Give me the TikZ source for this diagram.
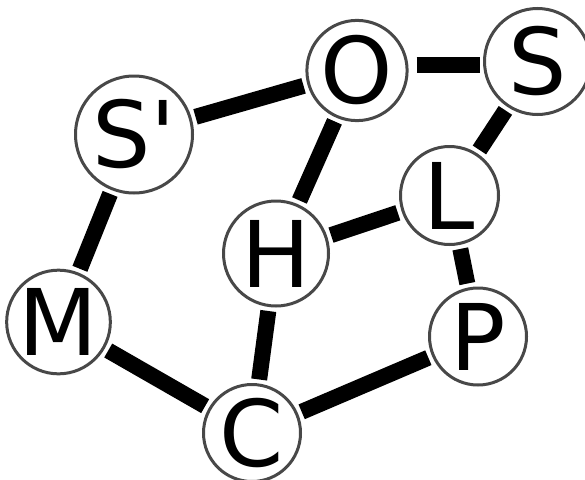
\documentclass[tikz,border=0pt]{standalone}
\usepackage{fontspec}
\setmainfont{DejaVu Sans}[Ligatures=TeXOff]
\definecolor{ring}{RGB}{72,72,72}
\begin{document}
\begin{tikzpicture}[x=1pt,y=-1pt,
  vtx/.style={circle,draw=ring,line width=3pt,fill=white,inner sep=0pt,
    font=\fontsize{92}{92}\selectfont},
  conn/.style={line width=16pt,line cap=butt,shorten <=4pt,shorten >=4pt}]
\useasboundingbox (0,0) rectangle (585,479);
\node[vtx,minimum size=117pt] (Sp) at (134,134.5) {S'};
\node[vtx,minimum size=97pt] (O) at (357,70.5) {O};
\node[vtx,minimum size=106pt] (S) at (537.5,61.5) {S};
\node[vtx,minimum size=98pt] (L) at (449.5,195.5) {L};
\node[vtx,minimum size=105pt] (H) at (276,253.5) {H};
\node[vtx,minimum size=98pt] (M) at (58.5,322) {M};
\node[vtx,minimum size=97pt] (P) at (478,336.5) {P};
\node[vtx,minimum size=97pt] (C) at (252,433) {C};
\draw[conn] (Sp) -- (O);
\draw[conn,shorten <=8pt,shorten >=3pt] ([yshift=6pt]O.east) -- ([yshift=-3pt]S.west);
\draw[conn] (O) -- (H);
\draw[conn] (S) -- (L);
\draw[conn] (H) -- (L);
\draw[conn] (L) -- (P);
\draw[conn] (Sp) -- (M);
\draw[conn] (M) -- (C);
\draw[conn] (H) -- (C);
\draw[conn] (C) -- (P);
\end{tikzpicture}
\end{document}
